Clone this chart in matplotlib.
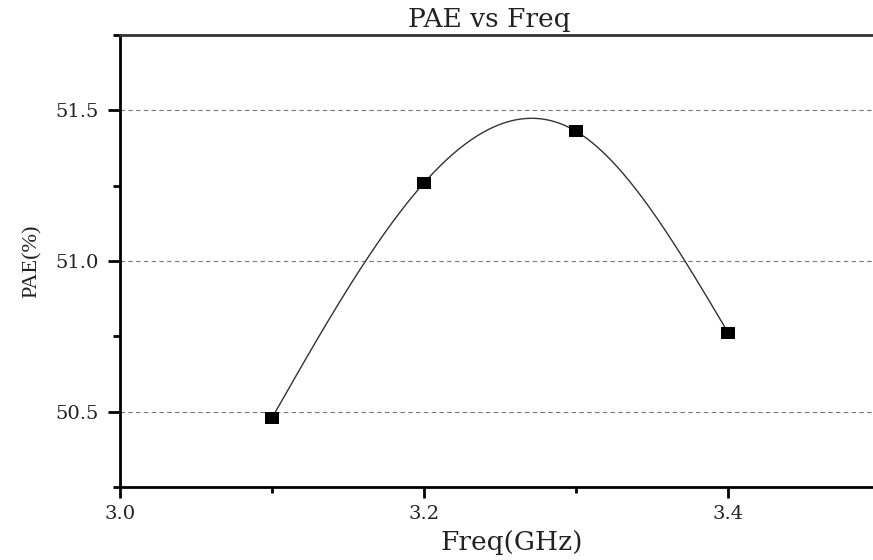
import numpy as np
import matplotlib
matplotlib.use("Agg")
import matplotlib.pyplot as plt
from matplotlib.ticker import MultipleLocator, FormatStrFormatter

freq = [3.1, 3.2, 3.3, 3.4]
pae = [50.48, 51.26, 51.43, 50.76]

title = "PAE vs Freq"
xlabel = "Freq(GHz)"
ylabel = "PAE(%)"


def natural_spline(x, y, n=300):
    x = np.asarray(x, float)
    y = np.asarray(y, float)
    m = len(x)
    h = np.diff(x)
    A = np.zeros((m, m))
    b = np.zeros(m)
    A[0, 0] = 1
    A[-1, -1] = 1
    for i in range(1, m - 1):
        A[i, i - 1] = h[i - 1]
        A[i, i] = 2 * (h[i - 1] + h[i])
        A[i, i + 1] = h[i]
        b[i] = 6 * ((y[i + 1] - y[i]) / h[i] - (y[i] - y[i - 1]) / h[i - 1])
    M = np.linalg.solve(A, b)
    xs = np.linspace(x[0], x[-1], n)
    ys = np.empty_like(xs)
    for k, xv in enumerate(xs):
        i = min(np.searchsorted(x, xv) - 1, m - 2)
        i = max(i, 0)
        t1 = x[i + 1] - xv
        t0 = xv - x[i]
        ys[k] = (M[i] * t1 ** 3 / (6 * h[i]) + M[i + 1] * t0 ** 3 / (6 * h[i])
                 + (y[i] / h[i] - M[i] * h[i] / 6) * t1
                 + (y[i + 1] / h[i] - M[i + 1] * h[i] / 6) * t0)
    return xs, ys


fig = plt.figure(figsize=(8.73, 5.6), dpi=100)
ax = fig.add_axes([120 / 873, 1 - 487 / 560, 1 - 120 / 873, (487 - 35) / 560])

xs, ys = natural_spline(freq, pae)
ax.plot(xs, ys, color="#333333", lw=1.0, zorder=3)
rect = [(-1, -0.82), (1, -0.82), (1, 0.82), (-1, 0.82), (-1, -0.82)]
ax.plot(freq, pae, ls="none", marker=rect, ms=9.8, color="black", mew=0, zorder=4)

ax.set_xlim(3.0, 3.495)
ax.set_ylim(50.25, 51.75)
ax.xaxis.set_major_locator(MultipleLocator(0.2))
ax.xaxis.set_minor_locator(MultipleLocator(0.1))
ax.yaxis.set_major_locator(MultipleLocator(0.5))
ax.yaxis.set_minor_locator(MultipleLocator(0.25))
ax.xaxis.set_major_formatter(FormatStrFormatter("%.1f"))
ax.yaxis.set_major_formatter(FormatStrFormatter("%.1f"))

ax.yaxis.grid(True, which="major", ls=(0, (4, 3)), color="#777777", lw=0.8)
ax.set_axisbelow(True)

for s in ["left", "bottom"]:
    ax.spines[s].set_linewidth(2.0)
    ax.spines[s].set_color("black")
ax.spines["top"].set_linewidth(2.0)
ax.spines["top"].set_color("#333333")
ax.spines["right"].set_visible(False)

ax.tick_params(axis="both", which="major", direction="out", width=2.0, colors="black")
ax.tick_params(axis="y", which="major", length=9, pad=6)
ax.tick_params(axis="x", which="major", length=8, pad=5)
ax.tick_params(axis="y", which="minor", length=5, width=2.0)
ax.tick_params(axis="x", which="minor", length=4, width=2.0)
for lab in ax.get_xticklabels() + ax.get_yticklabels():
    lab.set_fontfamily("DejaVu Serif")
    lab.set_fontsize(14)
    lab.set_color("#222222")

ax.set_title(title, fontfamily="DejaVu Serif", fontsize=19, color="#222222", pad=6)
ax.title.set_position((0.49, 1.0))
ax.set_xlabel(xlabel, fontfamily="DejaVu Serif", fontsize=19, color="#222222", labelpad=3)
ax.xaxis.set_label_coords(0.52, -0.096)
ax.set_ylabel(ylabel, fontfamily="Liberation Serif", fontsize=16, color="#222222", labelpad=10)

fig.savefig("out.png", dpi=100)
